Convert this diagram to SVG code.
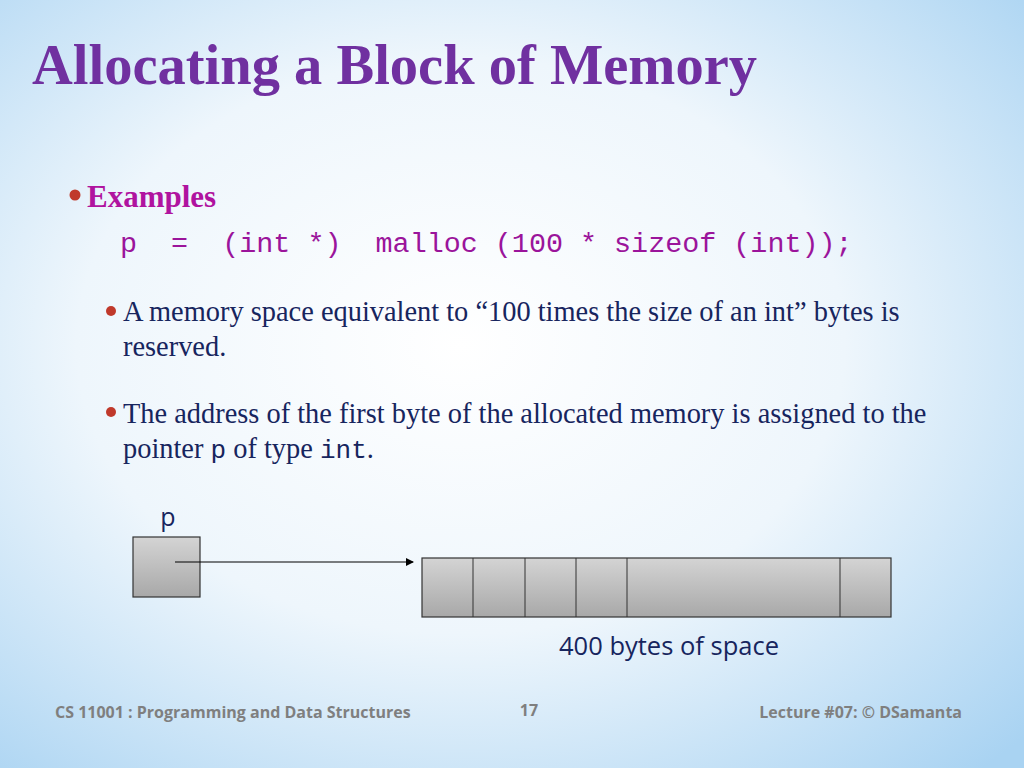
<svg xmlns="http://www.w3.org/2000/svg" width="1024" height="768" viewBox="0 0 1024 768">
<defs>
<radialGradient id="bg" cx="0.45" cy="0.45" r="0.75">
<stop offset="0" stop-color="#ffffff"/><stop offset="0.5" stop-color="#eef6fc"/><stop offset="1" stop-color="#a9d3f2"/>
</radialGradient>
<linearGradient id="cell" x1="0" y1="0" x2="0" y2="1">
<stop offset="0" stop-color="#d4d4d4"/><stop offset="1" stop-color="#a8a8a8"/>
</linearGradient>
<marker id="arr" markerWidth="8" markerHeight="8" refX="7" refY="4" orient="auto" markerUnits="userSpaceOnUse">
<path d="M0,0 L8,4 L0,8 Z" fill="#000"/>
</marker>
<style>
.ser{font-family:"Liberation Serif",serif}
.mono{font-family:"Liberation Mono",monospace}
.sans{font-family:"Open Sans","Noto Sans",sans-serif}
.cell{fill:url(#cell);stroke:#333;stroke-width:1.2}
.blt{fill:#c0392b}
</style>
</defs>
<rect width="1024" height="768" fill="url(#bg)"/>
<text x="32" y="84" class="ser" font-size="56.5" font-weight="bold" fill="#7030a0">Allocating a Block of Memory</text>
<circle cx="75" cy="195" r="5.5" class="blt"/>
<text x="87" y="207" class="ser" font-size="31" font-weight="bold" fill="#b0139f">Examples</text>
<text x="120" y="252" class="mono" font-size="28.4" fill="#9b149b" xml:space="preserve">p  =  (int *)  malloc (100 * sizeof (int));</text>
<circle cx="111" cy="311" r="5" class="blt"/>
<text class="ser" font-size="28.4" fill="#17255e"><tspan x="123" y="321">A memory space equivalent to “100 times the size of an int” bytes is</tspan><tspan x="123" y="356">reserved.</tspan></text>
<circle cx="111" cy="412" r="5" class="blt"/>
<text class="ser" font-size="28.4" fill="#17255e"><tspan x="123" y="423">The address of the first byte of the allocated memory is assigned to the</tspan><tspan x="123" y="458">pointer <tspan class="mono" font-size="26">p</tspan> of type <tspan class="mono" font-size="26">int</tspan>.</tspan></text>
<g id="p-node">
<text x="168" y="526" class="sans" font-size="25" fill="#17255e" text-anchor="middle">p</text>
<rect x="133" y="537" width="67" height="60" class="cell"/>
</g>
<g id="block">
<rect x="422" y="558" width="469" height="59" class="cell"/>
<line x1="473" y1="558" x2="473" y2="617" stroke="#333"/>
<line x1="525" y1="558" x2="525" y2="617" stroke="#333"/>
<line x1="576" y1="558" x2="576" y2="617" stroke="#333"/>
<line x1="627" y1="558" x2="627" y2="617" stroke="#333"/>
<line x1="840" y1="558" x2="840" y2="617" stroke="#333"/>
<text x="669" y="655" class="sans" font-size="25.5" fill="#17255e" text-anchor="middle">400 bytes of space</text>
</g>
<g id="connectors">
<line x1="175" y1="562" x2="413" y2="562" stroke="#000" stroke-width="1.2" marker-end="url(#arr)"/>
</g>
<text x="55" y="718" class="sans" font-size="16" font-weight="bold" fill="#7f7f7f">CS 11001 : Programming and Data Structures</text>
<text x="529" y="716" class="sans" font-size="16" font-weight="bold" fill="#7f7f7f" text-anchor="middle">17</text>
<text x="962" y="718" class="sans" font-size="16" font-weight="bold" fill="#7f7f7f" text-anchor="end">Lecture #07: © DSamanta</text>
</svg>
